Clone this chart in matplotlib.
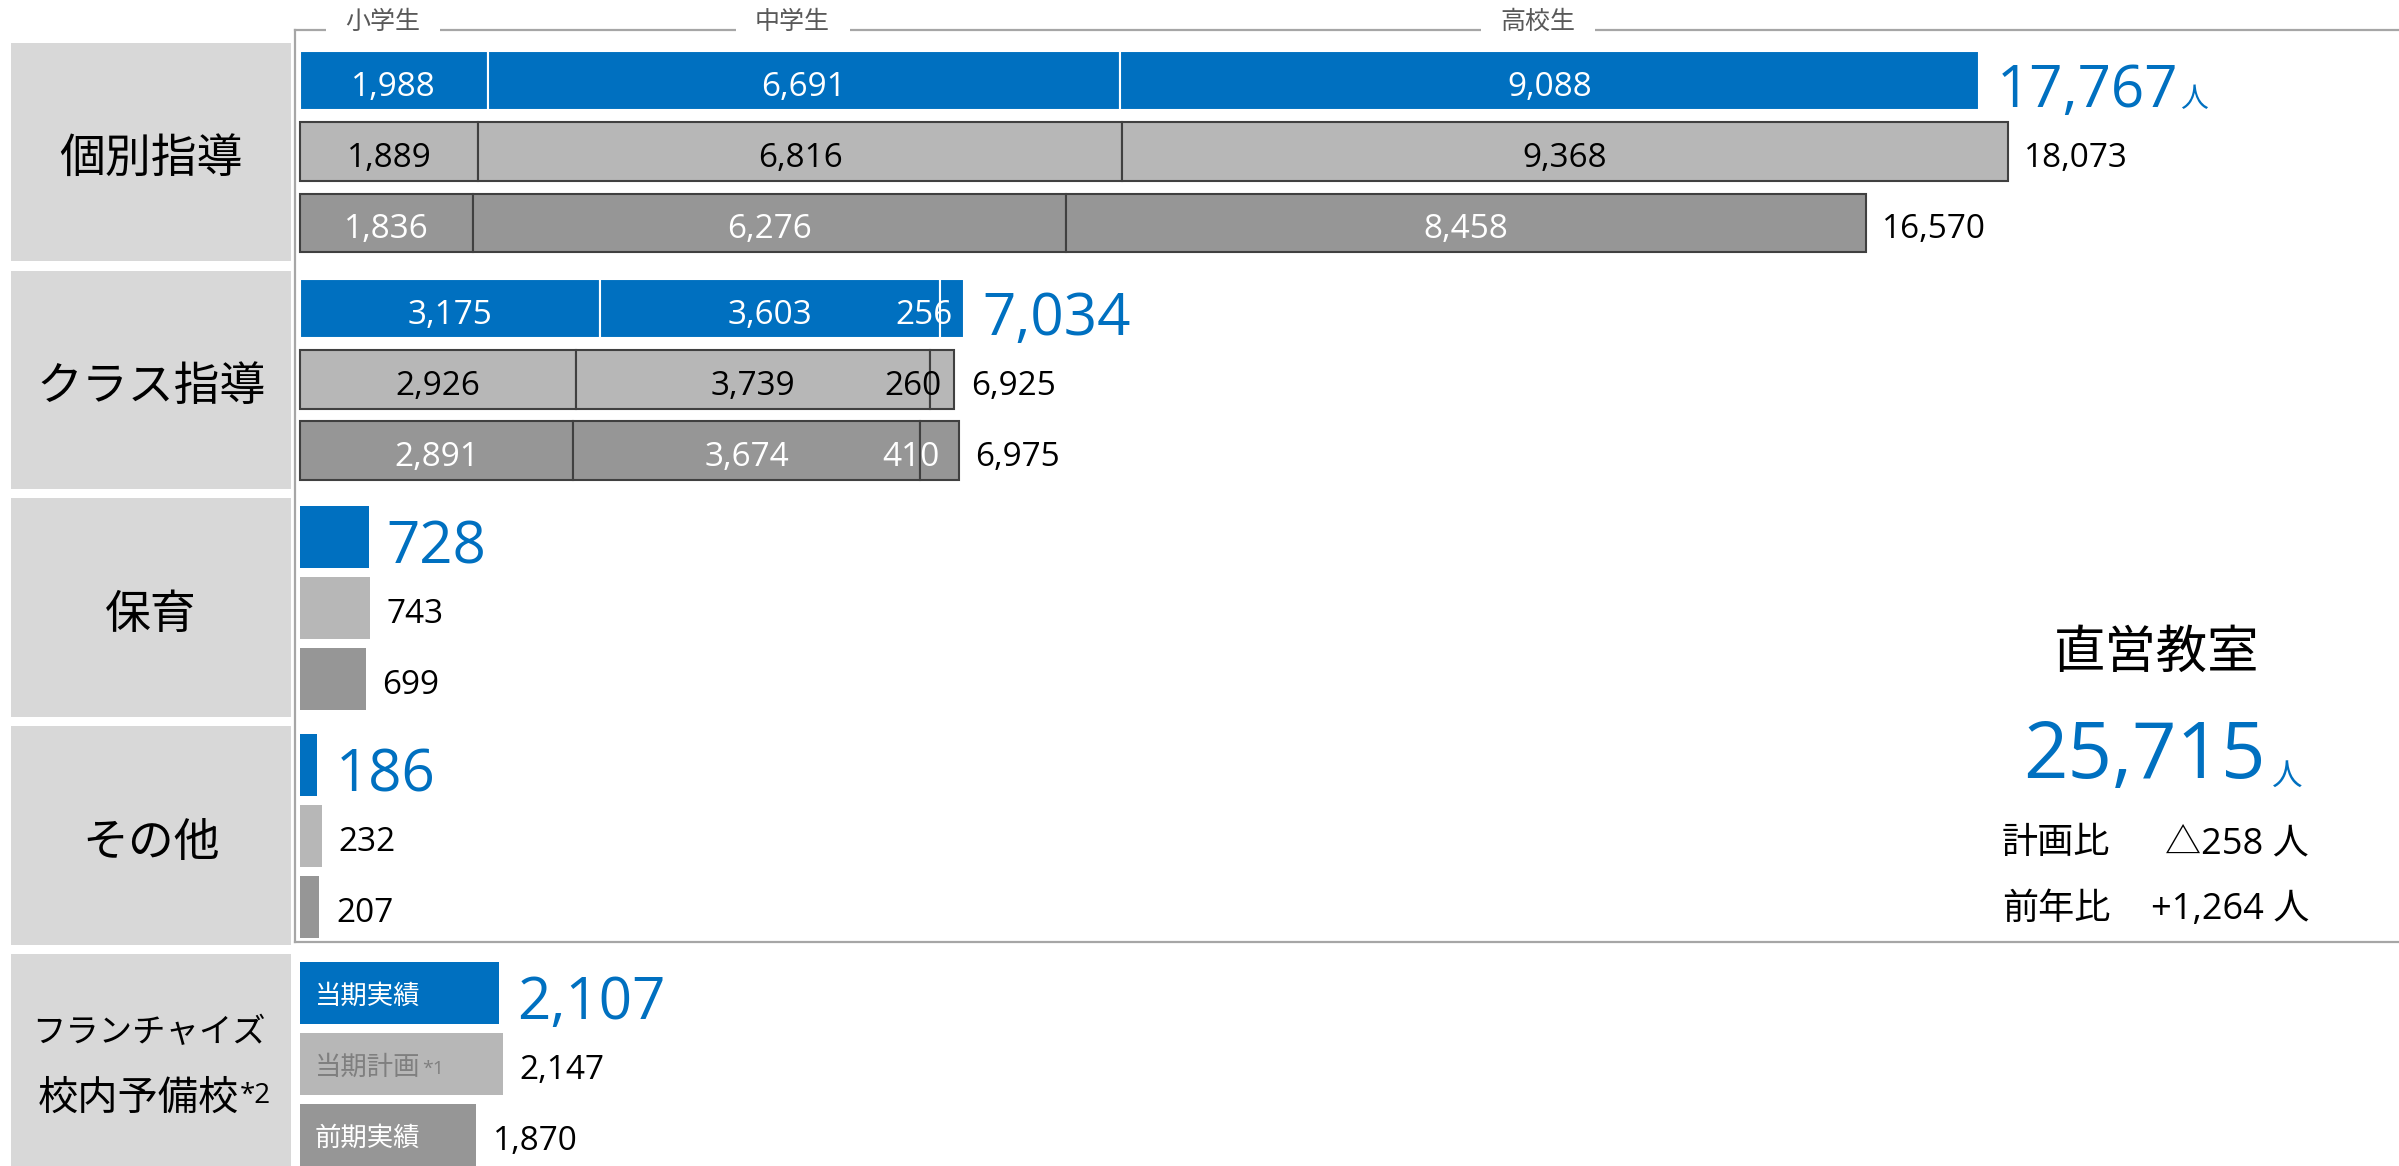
import matplotlib.pyplot as plt
import numpy as np

plt.rcParams['font.family'] = ['Open Sans', 'Noto Sans CJK JP']

categories = ['個別指導', 'クラス指導', '保育', 'その他']
fc_lines = ['フランチャイズ', '校内予備校']
levels = ['小学生', '中学生', '高校生']
row_names = ['当期実績', '当期計画', '前期実績']

# rows: 当期実績, 当期計画, 前期実績 / cols: 小学生, 中学生, 高校生
kobetsu = np.array([[1988, 6691, 9088],
                    [1889, 6816, 9368],
                    [1836, 6276, 8458]])
klass = np.array([[3175, 3603, 256],
                  [2926, 3739, 260],
                  [2891, 3674, 410]])
hoiku = [728, 743, 699]
sonota = [186, 232, 207]
franchise = [2107, 2147, 1870]

BLUE = '#0070c0'
bar_colors = [BLUE, '#b7b7b7', '#969696']
text_colors = ['white', 'black', 'white']
fc_text_colors = ['white', '#7f7f7f', 'white']
FRAME = '#a6a6a6'

W, H = 2399, 1166
LW = 295
PITCH = 3.21
BH = 0.83
DY_S = -5   # text nudges (points), small / big labels
DY_B = -8

fig = plt.figure(figsize=(W / 100, H / 100), dpi=100)
ax = fig.add_axes([LW / W, 0, 1 - LW / W, 1])
axl = fig.add_axes([0, 0, LW / W, 1])
for a in (ax, axl):
    a.set_ylim(15.28, -1.14)
    a.axis('off')
ax.set_xlim(-50, 22215)
axl.set_xlim(0, LW)


def ypos(g, r):
    return g * PITCH + r


# category boxes on the left
centers = [ypos(g, 1) for g in range(5)]
axl.barh(centers, 280, left=11, height=3.08, color='#d8d8d8')
for g, name in enumerate(categories):
    axl.annotate(name, (151, centers[g]), xytext=(0, -6), textcoords='offset points',
                 ha='center', va='center', fontsize=33)
axl.text(149, centers[4] - 0.43, fc_lines[0], ha='center', va='center', fontsize=24)
fc2 = axl.text(138, centers[4] + 0.5, fc_lines[1], ha='center', va='center', fontsize=29)
axl.annotate('*2', xy=(1, 1), xycoords=fc2, xytext=(1, -2), textcoords='offset points',
             ha='left', va='top', fontsize=20)

# stacked bars by school level
for g, data in enumerate([kobetsu, klass]):
    for r in range(3):
        y = ypos(g, r)
        left = 0
        ec = 'white' if r == 0 else '#404040'
        for v in data[r]:
            ax.barh(y, v, left=left, height=BH, color=bar_colors[r],
                    edgecolor=ec, linewidth=1.5, zorder=2)
            ax.annotate(f'{v:,}', (left + v / 2, y), xytext=(0, DY_S), textcoords='offset points',
                        ha='right' if v < 1000 else 'center', va='center',
                        fontsize=24, color=text_colors[r], zorder=3)
            left += v

# simple bars
for g, vals in [(2, hoiku), (3, sonota), (4, franchise)]:
    for r, v in enumerate(vals):
        ax.barh(ypos(g, r), v, height=BH + 0.04, color=bar_colors[r], zorder=2)

# franchise row names inside bars
for r, name in enumerate(row_names):
    t = ax.annotate(name, (0, ypos(4, r)), xytext=(11, -3), textcoords='offset points',
                    va='center', fontsize=19, color=fc_text_colors[r], zorder=3)
    if r == 1:
        ax.annotate('*1', xy=(1, 1), xycoords=t, xytext=(1, -3), textcoords='offset points',
                    ha='left', va='top', fontsize=14, color=fc_text_colors[r], zorder=3)

# totals
totals = [kobetsu.sum(axis=1), klass.sum(axis=1), hoiku, sonota, franchise]
for g, tot in enumerate(totals):
    for r, t in enumerate(tot):
        y = ypos(g, r)
        if r == 0:
            tt = ax.annotate(f'{t:,}', (t, y), xytext=(13, DY_B), textcoords='offset points',
                             va='center', fontsize=42, color=BLUE, zorder=3)
            if g == 0:
                ax.annotate('人', xy=(1, 0), xycoords=tt, xytext=(1, 5), textcoords='offset points',
                            ha='left', va='bottom', fontsize=20, color=BLUE)
        else:
            ax.annotate(f'{t:,}', (t, y), xytext=(12, DY_S), textcoords='offset points',
                        va='center', fontsize=24, color='black', zorder=3)

# frame around the direct-run block
frame_top = -0.72
frame_bot = ypos(3, 2) + 0.5
yt = ax.get_yaxis_transform()
ax.plot([0, 0], [frame_top, frame_bot], transform=yt, color=FRAME, lw=1.6, clip_on=False, zorder=1)
ax.plot([0, 1], [frame_bot, frame_bot], transform=yt, color=FRAME, lw=1.6, clip_on=False, zorder=1)
ax.plot([0, 1], [frame_top, frame_top], transform=yt, color=FRAME, lw=1.6, clip_on=False, zorder=0.4)

# school level headers
mids = np.cumsum(kobetsu[0]) - kobetsu[0] / 2
for m, lev in zip(mids, levels):
    ax.annotate(lev, (m, -0.86), xytext=(-8, -2), textcoords='offset points',
                ha='center', va='center', fontsize=18, color='#595959', zorder=0.5,
                bbox=dict(fc='white', ec='none', pad=14))

# summary block
now = sum(t[0] for t in totals[:4])
plan = sum(t[1] for t in totals[:4])
prev = sum(t[2] for t in totals[:4])
d_plan = now - plan
d_prev = now - prev


def fmt_diff(d):
    return f'+{d:,}' if d >= 0 else f'△{-d:,}'


fig.text(2157 / W, 1 - 654 / H, '直営教室', ha='center', va='center', fontsize=37)
fig.text(2266 / W, 1 - 758 / H, f'{now:,}', ha='right', va='center', fontsize=56, color=BLUE)
fig.text(2272 / W, 1 - 792 / H, '人', ha='left', va='bottom', fontsize=22, color=BLUE)
fig.text(2002 / W, 1 - 844 / H, '計画比', ha='left', va='center', fontsize=26)
fig.text(2309 / W, 1 - 844 / H, f'{fmt_diff(d_plan)} 人', ha='right', va='center', fontsize=26)
fig.text(2002 / W, 1 - 910 / H, '前年比', ha='left', va='center', fontsize=26)
fig.text(2309 / W, 1 - 910 / H, f'{fmt_diff(d_prev)} 人', ha='right', va='center', fontsize=26)

fig.savefig('out.png', dpi=100)
